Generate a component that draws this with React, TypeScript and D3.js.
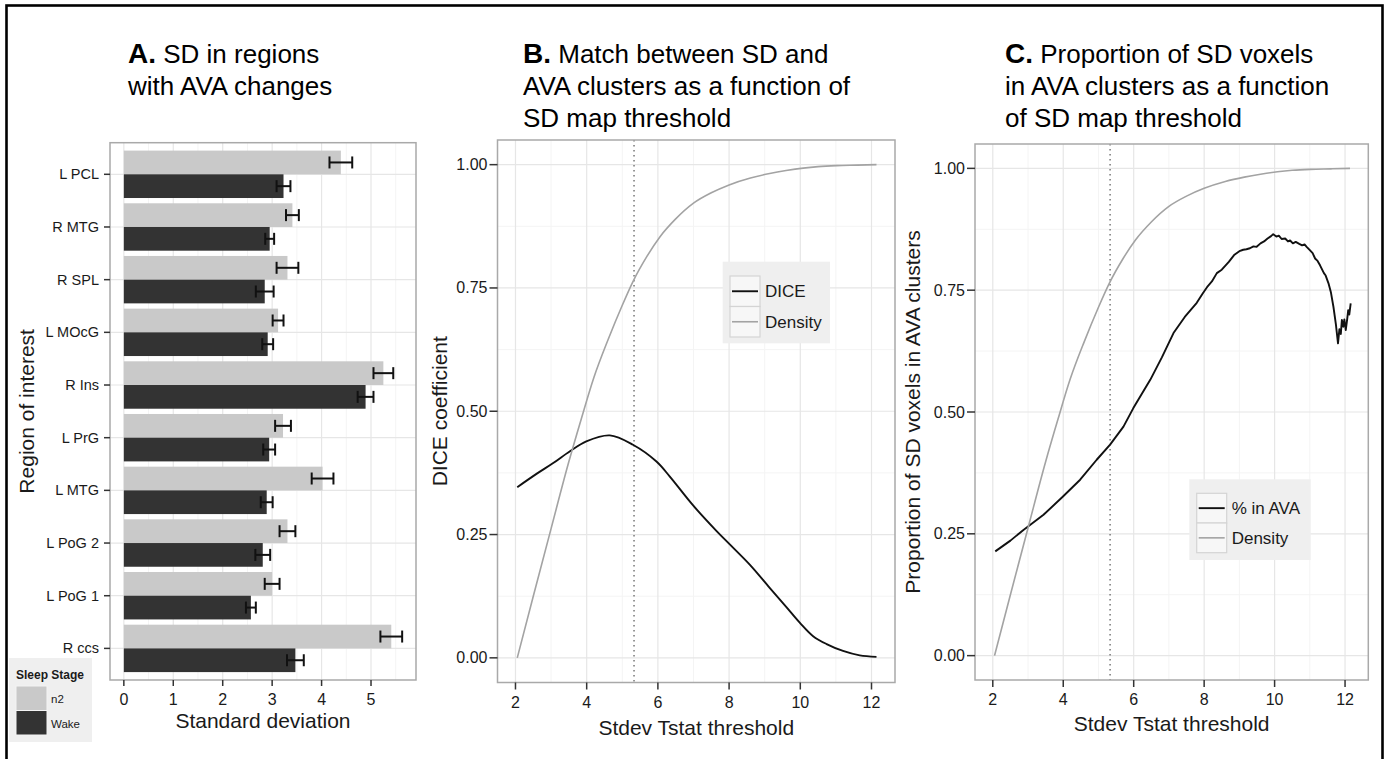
import React from "react";
import * as d3 from "d3";

const FONT = "'Liberation Sans', Arial, Helvetica, sans-serif";

// ---------- Panel A data ----------
const regions = ["L PCL", "R MTG", "R SPL", "L MOcG", "R Ins", "L PrG", "L MTG", "L PoG 2", "L PoG 1", "R ccs"];
const n2Mean = [4.39, 3.41, 3.31, 3.12, 5.25, 3.22, 4.02, 3.31, 3.0, 5.41];
const n2Err = [0.23, 0.13, 0.22, 0.11, 0.2, 0.16, 0.22, 0.16, 0.15, 0.22];
const wakeMean = [3.23, 2.95, 2.85, 2.91, 4.89, 2.94, 2.89, 2.81, 2.57, 3.47];
const wakeErr = [0.14, 0.09, 0.18, 0.11, 0.16, 0.12, 0.12, 0.15, 0.1, 0.17];
const sdTicks = [0, 1, 2, 3, 4, 5];
const stages = ["n2", "Wake"];

// ---------- Panels B & C data ----------
const thresholdTicks = [2, 4, 6, 8, 10, 12];
const propTicks = [0, 0.25, 0.5, 0.75, 1];
const propTickLabels = ["0.00", "0.25", "0.50", "0.75", "1.00"];
const cutoff = 5.33;

const densityX = [2.05, 2.5, 3.0, 3.5, 3.85, 4.2, 4.6, 5.0, 5.3, 5.7, 6.05, 6.5, 7.0, 7.5, 8.0, 8.6, 9.14, 9.6, 10.08, 10.5, 11.02, 11.6, 12.14];
const densityY = [0.0, 0.125, 0.262, 0.398, 0.485, 0.568, 0.645, 0.715, 0.763, 0.815, 0.853, 0.89, 0.922, 0.943, 0.959, 0.973, 0.982, 0.988, 0.993, 0.996, 0.998, 0.999, 1.0];

const diceX = [2.05, 2.59, 3.06, 3.53, 3.99, 4.65, 5.3, 5.96, 6.33, 6.99, 7.65, 8.02, 8.58, 9.14, 9.61, 9.99, 10.36, 10.74, 11.2, 11.67, 12.14];
const diceY = [0.346, 0.373, 0.395, 0.419, 0.439, 0.451, 0.432, 0.398, 0.368, 0.309, 0.257, 0.23, 0.189, 0.142, 0.103, 0.071, 0.044, 0.028, 0.014, 0.005, 0.002];

const avaX = [2.07, 2.5, 2.87, 3.44, 4.0, 4.48, 4.95, 5.33, 5.71, 5.99, 6.47, 6.8, 7.13, 7.45, 7.79, 7.95, 8.1, 8.22, 8.36, 8.5, 8.7, 8.85, 9.0, 9.11, 9.2, 9.3, 9.4, 9.49, 9.6, 9.7, 9.8, 9.9, 9.96, 10.05, 10.12, 10.2, 10.3, 10.38, 10.44, 10.52, 10.6, 10.7, 10.78, 10.85, 10.91, 11.0, 11.08, 11.15, 11.22, 11.29, 11.4, 11.45, 11.53, 11.6, 11.67, 11.74, 11.8, 11.84, 11.88, 11.91, 11.95, 11.98, 12.02, 12.06, 12.09, 12.12, 12.16];
const avaY = [0.214, 0.236, 0.258, 0.289, 0.327, 0.361, 0.402, 0.433, 0.47, 0.508, 0.566, 0.612, 0.662, 0.695, 0.724, 0.742, 0.758, 0.768, 0.785, 0.792, 0.808, 0.822, 0.83, 0.833, 0.834, 0.836, 0.84, 0.839, 0.846, 0.85, 0.856, 0.861, 0.865, 0.86, 0.862, 0.855, 0.856, 0.85, 0.852, 0.846, 0.849, 0.845, 0.842, 0.844, 0.839, 0.832, 0.826, 0.815, 0.81, 0.801, 0.785, 0.78, 0.764, 0.745, 0.716, 0.68, 0.641, 0.67, 0.66, 0.689, 0.675, 0.69, 0.668, 0.69, 0.709, 0.7, 0.723];

const BORDER = "#a9a9a9";
const GRID_MAJOR = "#e6e6e6";
const GRID_MINOR = "#f4f4f4";
const TEXT = "#1a1a1a";
const N2_FILL = "#c9c9c9";
const WAKE_FILL = "#333333";
const DENS_COL = "#a3a3a3";

function PanelA() {
  const left = 110, right = 416, top = 142.7, bottom = 680;
  const x = d3.scaleLinear().domain([-0.28, 5.91]).range([left, right]);
  const y = d3.scalePoint<string>().domain(regions).range([top, bottom]).padding(0.6);
  const step = y.step();
  const barH = step * 0.45;
  const minor = d3.range(0.5, 6, 1);
  const capH = 6;
  return (
    <g>
      <rect x={left} y={top} width={right - left} height={bottom - top} fill="white" />
      {minor.map((v) => (
        <line key={"mn" + v} x1={x(v)} x2={x(v)} y1={top} y2={bottom} stroke={GRID_MINOR} strokeWidth={1} />
      ))}
      {sdTicks.map((v) => (
        <line key={"mj" + v} x1={x(v)} x2={x(v)} y1={top} y2={bottom} stroke={GRID_MAJOR} strokeWidth={1.2} />
      ))}
      {regions.map((r) => (
        <line key={"hg" + r} x1={left} x2={right} y1={y(r)!} y2={y(r)!} stroke={GRID_MAJOR} strokeWidth={1.2} />
      ))}
      {regions.map((r, i) => {
        const c = y(r)!;
        const n2c = c - barH / 2;
        const wc = c + barH / 2;
        return (
          <g key={"b" + r}>
            <rect x={x(0)} y={c - barH} width={x(n2Mean[i]) - x(0)} height={barH} fill={N2_FILL} />
            <rect x={x(0)} y={c} width={x(wakeMean[i]) - x(0)} height={barH} fill={WAKE_FILL} />
            <g stroke="#111" strokeWidth={2} fill="none">
              <line x1={x(n2Mean[i] - n2Err[i])} x2={x(n2Mean[i] + n2Err[i])} y1={n2c} y2={n2c} />
              <line x1={x(n2Mean[i] - n2Err[i])} x2={x(n2Mean[i] - n2Err[i])} y1={n2c - capH} y2={n2c + capH} />
              <line x1={x(n2Mean[i] + n2Err[i])} x2={x(n2Mean[i] + n2Err[i])} y1={n2c - capH} y2={n2c + capH} />
              <line x1={x(wakeMean[i] - wakeErr[i])} x2={x(wakeMean[i] + wakeErr[i])} y1={wc} y2={wc} />
              <line x1={x(wakeMean[i] - wakeErr[i])} x2={x(wakeMean[i] - wakeErr[i])} y1={wc - capH} y2={wc + capH} />
              <line x1={x(wakeMean[i] + wakeErr[i])} x2={x(wakeMean[i] + wakeErr[i])} y1={wc - capH} y2={wc + capH} />
            </g>
          </g>
        );
      })}
      <rect x={left} y={top} width={right - left} height={bottom - top} fill="none" stroke={BORDER} strokeWidth={1.5} />
      {regions.map((r) => (
        <g key={"yt" + r}>
          <line x1={left - 6} x2={left} y1={y(r)!} y2={y(r)!} stroke="#333" strokeWidth={1.5} />
          <text x={left - 11} y={y(r)! + 5} textAnchor="end" fontSize={14.5} fill={TEXT}>{r}</text>
        </g>
      ))}
      {sdTicks.map((v) => (
        <g key={"xt" + v}>
          <line x1={x(v)} x2={x(v)} y1={bottom} y2={bottom + 6} stroke="#333" strokeWidth={1.5} />
          <text x={x(v)} y={bottom + 25} textAnchor="middle" fontSize={16} fill={TEXT}>{v}</text>
        </g>
      ))}
      <text x={(left + right) / 2} y={728} textAnchor="middle" fontSize={21} fill={TEXT}>Standard deviation</text>
      <text transform={`translate(34,${(top + bottom) / 2}) rotate(-90)`} textAnchor="middle" fontSize={21} fill={TEXT}>Region of interest</text>
      {/* legend */}
      <rect x={9} y={658} width={83} height={84} fill="#efefef" />
      <text x={16} y={679} fontSize={12} fontWeight="bold" fill={TEXT}>Sleep Stage</text>
      {stages.map((s, i) => (
        <g key={"lg" + s}>
          <rect x={16} y={686 + i * 24.5} width={31} height={24.5} fill={i === 0 ? N2_FILL : WAKE_FILL} stroke="#f4f4f4" strokeWidth={1} />
          <text x={51} y={703 + i * 24.5} fontSize={11.5} fill={TEXT}>{s}</text>
        </g>
      ))}
      <text x={128} y={63} fill="#000">
        <tspan fontWeight="bold" fontSize={28}>A.</tspan>
        <tspan fontSize={26}> SD in regions</tspan>
      </text>
      <text x={128} y={95} fontSize={26} fill="#000">with AVA changes</text>
    </g>
  );
}

type Series = { xs: number[]; ys: number[]; color: string; width: number; curve: any; label: string };

function LinePanel(props: {
  left: number; right: number; top: number; bottom: number;
  series: Series[]; yTitle: string; yTitleX: number; xTitleY: number;
  legend: { x: number; y: number; w: number; h: number; keyX: number; keyY: number; keyH: number };
  titleX: number; titleLetter: string; titleLines: string[];
}) {
  const { left, right, top, bottom, series, legend } = props;
  const x = d3.scaleLinear().domain([1.495, 12.66]).range([left, right]);
  const y = d3.scaleLinear().domain([-0.05, 1.05]).range([bottom, top]);
  const xMinor = [3, 5, 7, 9, 11];
  const yMinor = [0.125, 0.375, 0.625, 0.875];
  return (
    <g>
      <rect x={left} y={top} width={right - left} height={bottom - top} fill="white" />
      {xMinor.map((v) => (
        <line key={"xm" + v} x1={x(v)} x2={x(v)} y1={top} y2={bottom} stroke={GRID_MINOR} strokeWidth={1} />
      ))}
      {yMinor.map((v) => (
        <line key={"ym" + v} x1={left} x2={right} y1={y(v)} y2={y(v)} stroke={GRID_MINOR} strokeWidth={1} />
      ))}
      {thresholdTicks.map((v) => (
        <line key={"xg" + v} x1={x(v)} x2={x(v)} y1={top} y2={bottom} stroke={GRID_MAJOR} strokeWidth={1.2} />
      ))}
      {propTicks.map((v) => (
        <line key={"yg" + v} x1={left} x2={right} y1={y(v)} y2={y(v)} stroke={GRID_MAJOR} strokeWidth={1.2} />
      ))}
      <line x1={x(cutoff)} x2={x(cutoff)} y1={top} y2={bottom} stroke="#777" strokeWidth={1.5} strokeDasharray="1.5,3.5" />
      {series.map((s, i) => {
        const pts: [number, number][] = s.xs.map((v, j) => [v, s.ys[j]]);
        const gen = d3.line<[number, number]>().x((d) => x(d[0])).y((d) => y(d[1])).curve(s.curve);
        return <path key={"s" + i} d={gen(pts) || ""} fill="none" stroke={s.color} strokeWidth={s.width} strokeLinejoin="round" />;
      })}
      <rect x={left} y={top} width={right - left} height={bottom - top} fill="none" stroke={BORDER} strokeWidth={1.5} />
      {propTicks.map((v, i) => (
        <g key={"yt" + v}>
          <line x1={left - 8} x2={left} y1={y(v)} y2={y(v)} stroke="#333" strokeWidth={1.5} />
          <text x={left - 10} y={y(v) + 5.5} textAnchor="end" fontSize={16} fill={TEXT}>{propTickLabels[i]}</text>
        </g>
      ))}
      {thresholdTicks.map((v) => (
        <g key={"xt" + v}>
          <line x1={x(v)} x2={x(v)} y1={bottom} y2={bottom + 7} stroke="#333" strokeWidth={1.5} />
          <text x={x(v)} y={bottom + 25} textAnchor="middle" fontSize={16} fill={TEXT}>{v}</text>
        </g>
      ))}
      <text x={(left + right) / 2} y={props.xTitleY} textAnchor="middle" fontSize={21} fill={TEXT}>Stdev Tstat threshold</text>
      <text transform={`translate(${props.yTitleX},${(top + bottom) / 2}) rotate(-90)`} textAnchor="middle" fontSize={21} fill={TEXT}>{props.yTitle}</text>
      <rect x={legend.x} y={legend.y} width={legend.w} height={legend.h} fill="#efefef" />
      {series.map((s, i) => {
        const ky = legend.keyY + i * legend.keyH;
        return (
          <g key={"lg" + i}>
            <rect x={legend.keyX} y={ky} width={30} height={legend.keyH} fill="#f7f7f7" stroke="#d4d4d4" strokeWidth={1.2} />
            <line x1={legend.keyX + 2} x2={legend.keyX + 28} y1={ky + legend.keyH / 2} y2={ky + legend.keyH / 2} stroke={s.color} strokeWidth={s.width} />
            <text x={legend.keyX + 35} y={ky + legend.keyH / 2 + 6} fontSize={17} fill={TEXT}>{s.label}</text>
          </g>
        );
      })}
      <text x={props.titleX} y={63} fill="#000">
        <tspan fontWeight="bold" fontSize={28}>{props.titleLetter}</tspan>
        <tspan fontSize={26}>{" " + props.titleLines[0]}</tspan>
      </text>
      <text x={props.titleX} y={95} fontSize={26} fill="#000">{props.titleLines[1]}</text>
      <text x={props.titleX} y={127} fontSize={26} fill="#000">{props.titleLines[2]}</text>
    </g>
  );
}

export default function App() {
  const densB: Series = { xs: densityX, ys: densityY, color: DENS_COL, width: 1.6, curve: d3.curveMonotoneX, label: "Density" };
  const dice: Series = { xs: diceX, ys: diceY, color: "#111", width: 1.9, curve: d3.curveCatmullRom.alpha(0.5), label: "DICE" };
  const ava: Series = { xs: avaX, ys: avaY, color: "#111", width: 1.9, curve: d3.curveLinear, label: "% in AVA" };
  return (
    <div style={{ position: "absolute", left: 0, top: 0 }}>
      <svg width={1387} height={759} style={{ display: "block", fontFamily: FONT }}>
        <rect x={0} y={0} width={1387} height={759} fill="white" />
        <PanelA />
        <LinePanel
          left={497.5} right={895} top={140} bottom={682.5}
          series={[dice, densB]}
          yTitle="DICE coefficient" yTitleX={447} xTitleY={735}
          legend={{ x: 722.7, y: 261.7, w: 107.3, h: 81.6, keyX: 730, keyY: 276, keyH: 30.5 }}
          titleX={523} titleLetter="B." titleLines={["Match between SD and", "AVA clusters as a function of", "SD map threshold"]}
        />
        <LinePanel
          left={975} right={1368.3} top={144} bottom={680}
          series={[ava, densB]}
          yTitle="Proportion of SD voxels in AVA clusters" yTitleX={920} xTitleY={731}
          legend={{ x: 1189.3, y: 479.3, w: 121.4, h: 80.7, keyX: 1196.7, keyY: 493.3, keyH: 29.7 }}
          titleX={1005} titleLetter="C." titleLines={["Proportion of SD voxels", "in AVA clusters as a function", "of SD map threshold"]}
        />
        <rect x={6.5} y={5.5} width={1376} height={800} fill="none" stroke="#000" strokeWidth={2.6} />
      </svg>
    </div>
  );
}
